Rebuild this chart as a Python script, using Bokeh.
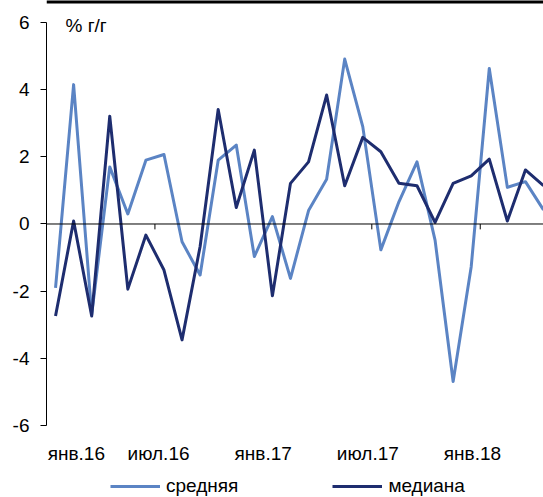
from bokeh.plotting import figure
from bokeh.models import (ColumnDataSource, Span, Legend, LegendItem, FixedTicker,
                          Label, Range1d)
from bokeh.core.properties import value
from bokeh.embed import file_html
from bokeh.resources import INLINE

# ---- data (monthly, Jan 2016 .. Apr 2018), % y/y ----
months = ["янв.16", "фев.16", "мар.16", "апр.16", "май.16", "июн.16",
          "июл.16", "авг.16", "сен.16", "окт.16", "ноя.16", "дек.16",
          "янв.17", "фев.17", "мар.17", "апр.17", "май.17", "июн.17",
          "июл.17", "авг.17", "сен.17", "окт.17", "ноя.17", "дек.17",
          "янв.18", "фев.18", "мар.18", "апр.18"]
srednyaya = [-1.90, 4.15, -2.70, 1.70, 0.30, 1.90, 2.07, -0.53, -1.52, 1.90,
             2.35, -0.97, 0.22, -1.62, 0.40, 1.33, 4.91, 2.90, -0.77, 0.66,
             1.85, -0.48, -4.69, -1.27, 4.63, 1.09, 1.26, 0.42]
mediana = [-2.74, 0.09, -2.74, 3.21, -1.94, -0.33, -1.37, -3.45, -0.67, 3.41,
           0.49, 2.20, -2.14, 1.21, 1.85, 3.84, 1.14, 2.58, 2.15, 1.21,
           1.14, 0.05, 1.21, 1.43, 1.93, 0.09, 1.61, 1.14]
tick_labels = ["янв.16", "июл.16", "янв.17", "июл.17", "янв.18"]
y_ticks = [-6, -4, -2, 0, 2, 4, 6]
series_names = ["средняя", "медиана"]

LIGHT = "#5B84C4"
DARK = "#1E2D6F"
FONT = "Liberation Sans"
FS = "19px"
X_MIN = -0.5
Y_TOP = 6.655      # frame top (canvas top)
Y_BOTTOM = -8.144  # frame bottom (canvas bottom), leaves room for labels + legend

idx = list(range(len(months)))
src = ColumnDataSource(dict(x=idx, avg=srednyaya, med=mediana))

p = figure(width=543, height=497, output_backend="svg",
           toolbar_location=None, x_range=Range1d(X_MIN, len(months) - 1),
           y_range=Range1d(Y_BOTTOM, Y_TOP), min_border_left=46, min_border_right=0,
           min_border_top=0, min_border_bottom=0)
p.outline_line_color = None
p.xgrid.visible = False
p.ygrid.visible = False
p.xaxis.visible = False
p.background_fill_color = "white"
p.border_fill_color = "white"

# thick rule along the top edge
p.add_layout(Span(location=Y_TOP, dimension="width", line_color="black", line_width=6))

# zero line with small tick marks at half-year boundaries
p.add_layout(Span(location=0, dimension="width", line_color="black", line_width=1))
bounds = [i - 0.5 for i in range(6, len(months), 6)]
p.segment(x0=bounds, x1=bounds, y0=[0] * len(bounds), y1=[-0.16] * len(bounds),
          line_color="black", line_width=1)

r1 = p.line("x", "avg", source=src, line_color=LIGHT, line_width=3, line_join="round")
r2 = p.line("x", "med", source=src, line_color=DARK, line_width=3, line_join="round")

# y axis
ya = p.yaxis[0]
ya.ticker = FixedTicker(ticks=y_ticks)
ya.major_label_overrides = {t: str(t) for t in y_ticks}
ya.bounds = (-6, 6)
ya.axis_line_color = "black"
ya.major_tick_out = 6
ya.major_tick_in = 0
ya.minor_tick_line_color = None
ya.major_label_standoff = 11
ya.major_label_text_font = FONT
ya.major_label_text_font_size = FS
ya.major_label_text_color = "black"

# category labels along the bottom (every 6 months), placed through the x scale;
# the first one is kept inside the plotting area so it is not cut off
label_pos = [max(round(k * 5.79 - 0.09, 2), X_MIN + 1.65) for k in range(len(tick_labels))]
p.text(x=label_pos, y=[-6.84] * len(tick_labels), text=tick_labels,
       text_font=value(FONT), text_font_size=value(FS), text_align="center",
       text_baseline="alphabetic", text_color="black")

p.add_layout(Label(x=0.55, y=5.9, text="% г/г", text_font=FONT, text_font_size=FS,
                   text_baseline="middle", text_color="black"))

legend = Legend(items=[LegendItem(label=series_names[0], renderers=[r1]),
                       LegendItem(label=series_names[1], renderers=[r2])],
                orientation="horizontal", location=(64, 0), glyph_width=50,
                glyph_height=20, label_height=20, label_standoff=6, spacing=94,
                padding=0, margin=0,
                border_line_color=None, background_fill_alpha=0,
                label_text_font=FONT, label_text_font_size=FS,
                label_text_color="black")
p.add_layout(legend)

open("out.html", "w").write(file_html(p, INLINE))
